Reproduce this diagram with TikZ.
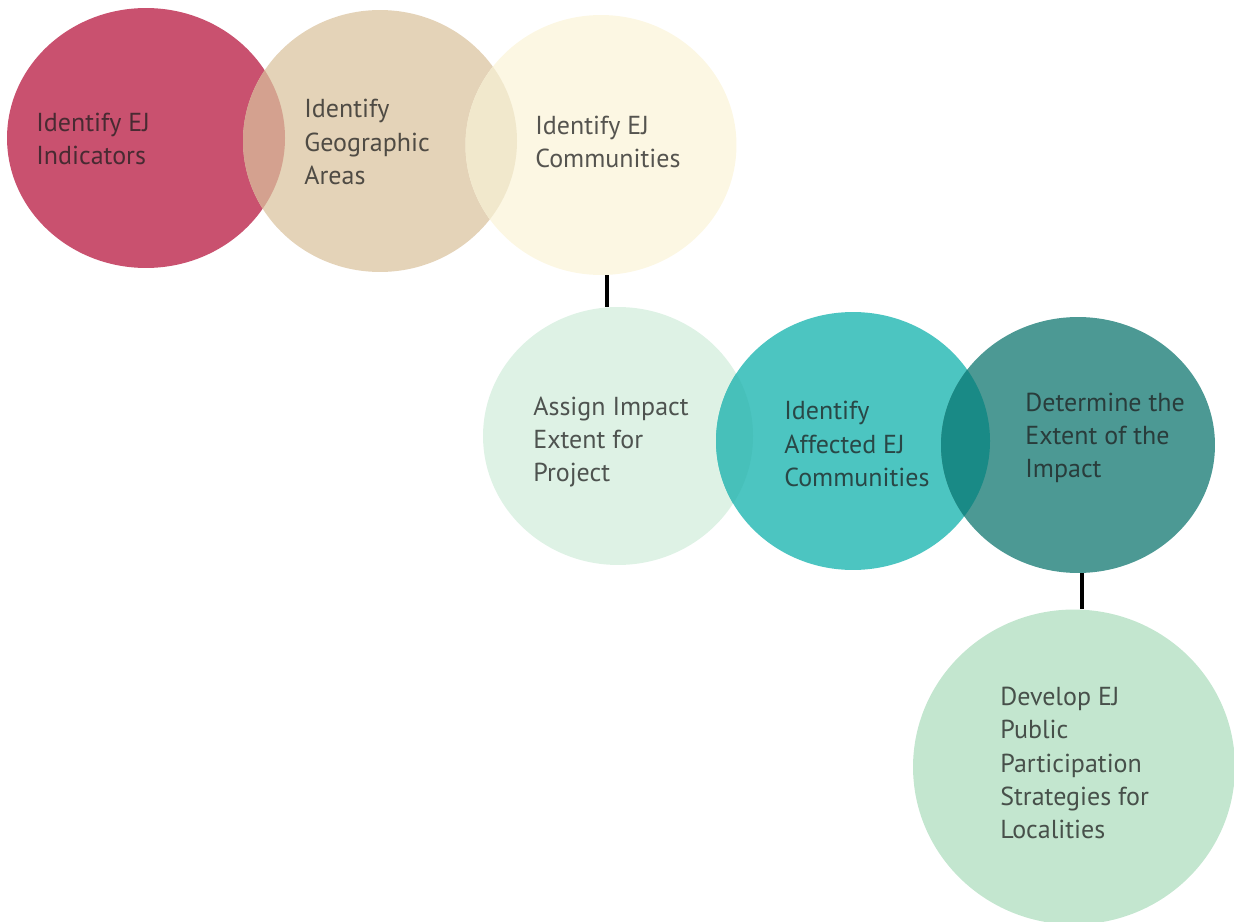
\documentclass[tikz,border=0pt]{standalone}
\usepackage{fontspec}
\setmainfont{PT Sans}
\usepackage{xcolor}
\usetikzlibrary{shapes.geometric}

\definecolor{ejpink}{HTML}{C9516F}
\definecolor{ejbeige}{HTML}{E4D3B8}
\definecolor{ejcream}{HTML}{FCF7E3}
\definecolor{ejpinkbeige}{HTML}{D4A18F}
\definecolor{ejbeigecream}{HTML}{F1E8CC}
\definecolor{ejlight}{HTML}{DEF2E5}
\definecolor{ejteal}{HTML}{4CC5C1}
\definecolor{ejlightteal}{HTML}{47C0BA}
\definecolor{ejdark}{HTML}{4C9994}
\definecolor{ejtealdark}{HTML}{198A86}
\definecolor{ejmint}{HTML}{C3E6CF}
\definecolor{ejtext}{HTML}{1E1E1E}

\begin{document}
\begin{tikzpicture}[x=0.02cm,y=-0.02cm]
	\tikzstyle{every node}+=[inner sep=0pt]
	\tikzstyle{disc}=[ellipse, draw=none]
	\tikzstyle{lbl}=[anchor=west, align=left, text=ejtext, text opacity=0.75, font=\fontsize{14.8}{18.9}\selectfont]
	\tikzstyle{conn}=[black, line width=1.8pt]
	\useasboundingbox (0,0) rectangle (1234,922);
	% top row
	\node [disc, fill=ejpink, minimum width=5.56cm, minimum height=5.2cm] (indic) at (146,138) {};
	\node [disc, fill=ejbeige, minimum width=5.48cm, minimum height=5.24cm] (geo) at (380,141) {};
	\begin{scope}
		\clip (146,138) ellipse [x radius=139, y radius=130];
		\fill [ejpinkbeige] (380,141) ellipse [x radius=137, y radius=131];
	\end{scope}
	\node [disc, fill=ejcream, minimum width=5.42cm, minimum height=5.2cm] (comm) at (601,145) {};
	\begin{scope}
		\clip (380,141) ellipse [x radius=137, y radius=131];
		\fill [ejbeigecream] (601,145) ellipse [x radius=135.5, y radius=130];
	\end{scope}
	\node [lbl] (indictext) at (36,139) {Identify EJ\\Indicators};
	\node [lbl] (geotext) at (304,142) {Identify\\Geographic\\Areas};
	\node [lbl] (commtext) at (535,142) {Identify EJ\\Communities};
	% middle row
	\node [disc, fill=ejlight, minimum width=5.4cm, minimum height=5.16cm] (assign) at (618,436) {};
	\node [disc, fill=ejteal, minimum width=5.48cm, minimum height=5.16cm] (affect) at (853,441) {};
	\begin{scope}
		\clip (618,436) ellipse [x radius=135, y radius=129];
		\fill [ejlightteal] (853,441) ellipse [x radius=137, y radius=129];
	\end{scope}
	\node [disc, fill=ejdark, minimum width=5.48cm, minimum height=5.12cm] (extent) at (1078,445) {};
	\begin{scope}
		\clip (853,441) ellipse [x radius=137, y radius=129];
		\fill [ejtealdark] (1078,445) ellipse [x radius=137, y radius=128];
	\end{scope}
	\node [lbl] (assigntext) at (533,442) {Assign Impact\\Extent for\\Project};
	\node [lbl] (affecttext) at (784,444) {Identify\\Affected EJ\\Communities};
	\node [lbl] (extenttext) at (1025,438) {Determine the\\Extent of the\\Impact};
	% bottom
	\node [disc, fill=ejmint, minimum width=6.44cm, minimum height=6.3cm] (develop) at (1074,767) {};
	\node [lbl] (developtext) at (1000,763) {Develop EJ\\Public\\Participation\\Strategies for\\Localities};
	% links
	\draw [conn] ([xshift=0.12cm]comm.south) -- ([xshift=0.12cm]comm.south |- assign.north);
	\draw [conn] ([xshift=0.08cm]extent.south) -- ([xshift=0.08cm]extent.south |- develop.north);
\end{tikzpicture}
\end{document}
